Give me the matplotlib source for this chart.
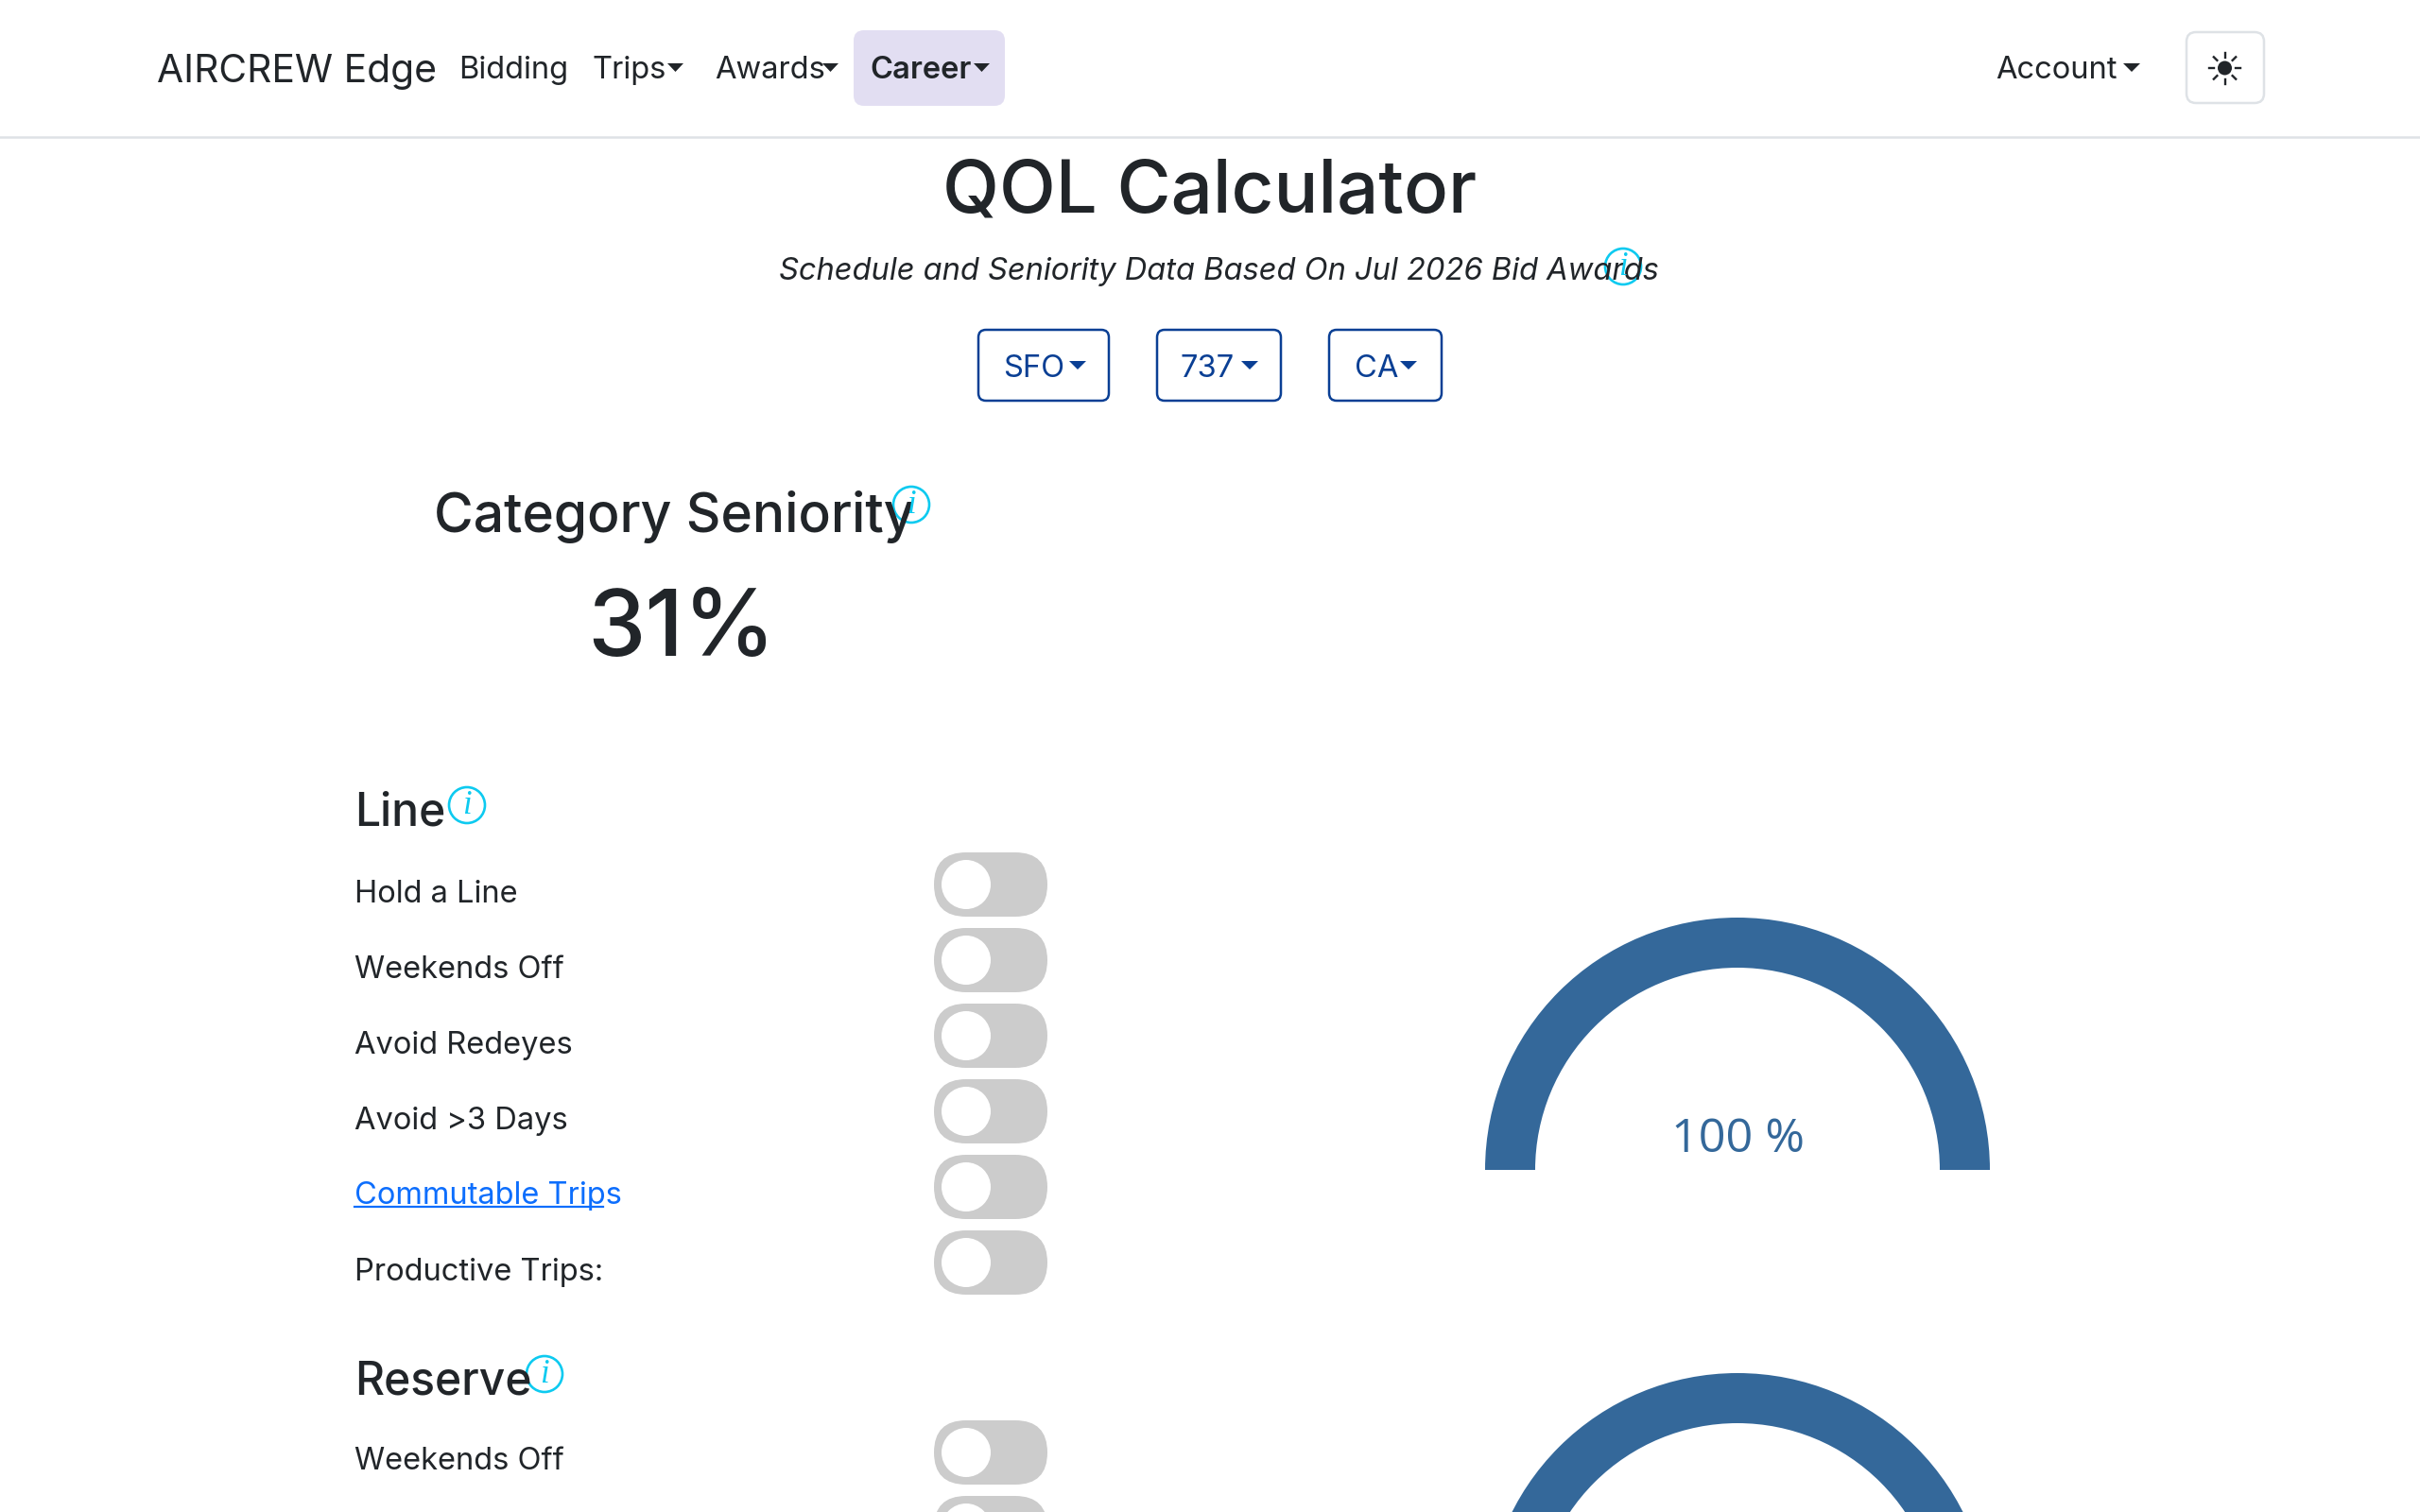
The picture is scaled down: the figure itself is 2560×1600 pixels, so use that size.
import matplotlib
matplotlib.use("Agg")
from matplotlib import pyplot as plt
from matplotlib.patches import FancyBboxPatch, Circle, Wedge, Polygon
import numpy as np

# page content
brand = "AIRCREW Edge"
nav_items = ["Bidding", "Trips", "Awards", "Career"]
account_label = "Account"
page_title = "QOL Calculator"
subtitle = "Schedule and Seniority Data Based On Jul 2026 Bid Awards"
dropdowns = ["SFO", "737", "CA"]
seniority_title = "Category Seniority"
seniority_value = 31
line_title = "Line"
line_rows = ["Hold a Line", "Weekends Off", "Avoid Redeyes", "Avoid >3 Days", "Commutable Trips", "Productive Trips:"]
reserve_title = "Reserve"
reserve_rows = ["Weekends Off"]
reserve_toggle_count = 2
gauge_values = [100, 100]

DARK = "#212529"
BLUE = "#34689a"
CYAN = "#0dcaf0"
NAVY = "#0a3f94"
GREY = "#cccccc"
PX = 0.72

plt.rcParams['font.family'] = ['Inter', 'DejaVu Sans']

fig = plt.figure(figsize=(25.6, 16), dpi=100, facecolor="white")
ax = fig.add_axes([0, 0, 1, 1])
ax.set_xlim(0, 2560)
ax.set_ylim(1600, 0)
ax.axis("off")


def label(x, y, s, px=32.65, color=DARK, ha="left", **kw):
    return ax.text(x, y, s, fontsize=px * PX, color=color, ha=ha, va="baseline", **kw)


def box(x0, y0, x1, y1, rad, **kw):
    p = FancyBboxPatch((x0, y0), x1 - x0, y1 - y0, boxstyle="round,pad=0,rounding_size=%g" % rad, **kw)
    ax.add_patch(p)


def caret(x0, x1, y0, y1, color=DARK):
    ax.add_patch(Polygon([(x0, y0), (x1, y0), ((x0 + x1) / 2, y1)], closed=True, fc=color, ec="none"))


def info(x, y):
    ax.add_patch(Circle((x, y), 19, fc="white", ec=CYAN, lw=1.9))
    ax.text(x, y + 9, "i", family="Liberation Serif", style="italic", fontsize=25, color=CYAN, ha="center", va="baseline")


def toggle(top):
    box(988, top, 1108, top + 68, 34, fc=GREY, ec="none")
    ax.add_patch(Circle((1022, top + 34), 26, fc="white", ec="none"))


# navbar
ax.plot([0, 2560], [145, 145], color="#dee2e6", lw=1.8)
label(166, 87, brand, px=40.8)
box(903, 32, 1063, 112, 11, fc="#e2deF2", ec="none")
nav_x = [485, 626, 756, 920]
caret_x = [None, 706, 870, 1030]
for i, name in enumerate(nav_items):
    label(nav_x[i], 83, name, weight="semibold" if name == "Career" else "normal")
    if caret_x[i]:
        caret(caret_x[i], caret_x[i] + 17, 67, 76)
label(2111, 83, account_label)
caret(2246, 2264, 67, 76)
box(2313, 34, 2395, 109, 10, fc="white", ec="#dee2e6", lw=1.8)
ax.add_patch(Circle((2353.5, 72), 7.5, fc=DARK, ec="none"))
for a in np.arange(0, 360, 45):
    c, s = np.cos(np.radians(a)), np.sin(np.radians(a))
    ax.plot([2353.5 + 11.5 * c, 2353.5 + 16.5 * c], [72 + 11.5 * s, 72 + 16.5 * s], color=DARK, lw=1.7)

# header
label(1280, 224, page_title, px=78, ha="center", weight="medium")
label(824, 296, subtitle, style="italic")
info(1717, 282)

btn_x = [(1035, 1173), (1224, 1355), (1406, 1525)]
btn_text = [1061, 1249, 1433]
btn_caret = [1131, 1313, 1481]
for i, name in enumerate(dropdowns):
    box(btn_x[i][0], 349, btn_x[i][1], 424, 8, fc="white", ec=NAVY, lw=1.8)
    label(btn_text[i], 399, name, color=NAVY)
    caret(btn_caret[i], btn_caret[i] + 18, 382, 391, color=NAVY)

# seniority
label(459, 563, seniority_title, px=57, weight="medium")
info(964, 534)
label(721, 694, "%d%%" % seniority_value, px=98, ha="center", weight="medium")

# line section
label(375, 874, line_title, px=48, weight="medium")
info(494, 852)
for i, name in enumerate(line_rows):
    y = 955 + 80 * i
    if name == "Commutable Trips":
        label(375, y - 1, name, color="#0d6efd")
        ax.plot([375, 638], [y + 1.5, y + 1.5], color="#0d6efd", lw=1.6)
    else:
        label(375, y, name)
    toggle(902 + 80 * i)

# reserve section
label(375, 1476, reserve_title, px=48, weight="medium")
info(576, 1454)
for i in range(reserve_toggle_count):
    if i < len(reserve_rows):
        label(375, 1555 + 80 * i, reserve_rows[i])
    toggle(1503 + 80 * i)

# gauges
gauge_y = [1238, 1720]
for i, v in enumerate(gauge_values):
    ax.add_patch(Wedge((1838, gauge_y[i]), 267, 180, 180 + 180 * v / 100, width=53, fc=BLUE, ec="none"))
ax.text(1838, 1219, "%d %%" % gauge_values[0], family="Open Sans", fontsize=36 / 0.714 * PX, color=BLUE, ha="center", va="baseline")

fig.savefig("out.png", dpi=100)
